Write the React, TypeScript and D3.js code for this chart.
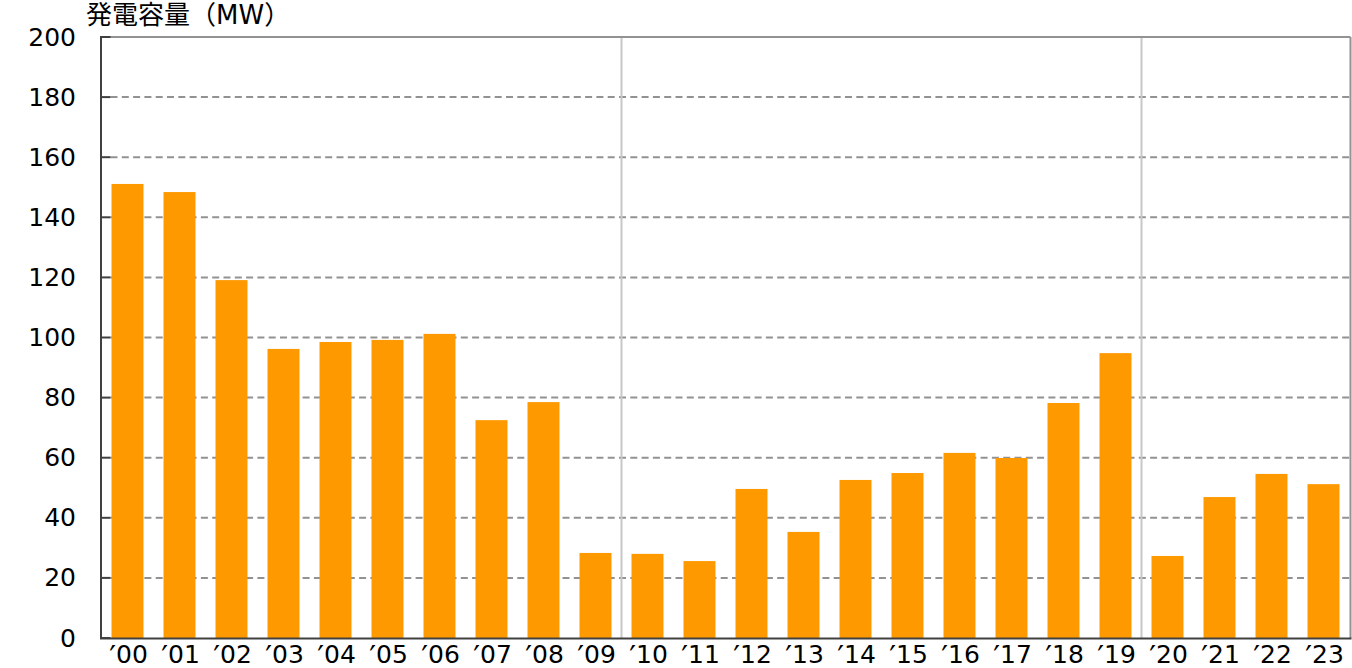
import React from "react";
import * as d3 from "d3";

const categories = ["′00","′01","′02","′03","′04","′05","′06","′07","′08","′09","′10","′11","′12","′13","′14","′15","′16","′17","′18","′19","′20","′21","′22","′23"];
const values = [151.1,148.4,119.1,96.2,98.5,99.2,101.2,72.5,78.5,28.3,28.0,25.6,49.6,35.3,52.6,54.9,61.6,59.9,78.2,94.8,27.3,46.9,54.6,51.2];
const yTicks = [0,20,40,60,80,100,120,140,160,180,200];
const separatorsAfter = ["′09","′19"];
const title = "発電容量（MW）";

const W = 1352, H = 668;
const left = 101.5, right = 1349.5, top = 37, bottom = 638;

export default function App() {
  const x = d3.scaleBand<string>().domain(categories).range([left, right]).paddingInner(0.385).paddingOuter(0.1925);
  const y = d3.scaleLinear().domain([0, 200]).range([bottom, top]);
  const step = x.step();
  const font = "'DejaVu Sans', Verdana, sans-serif";
  return (
    <svg width={W} height={H} style={{ position: "absolute", left: 0, top: 0, background: "#fff" }}>
      {/* gridlines */}
      {yTicks.filter(t => t > 0 && t < 200).map(t => (
        <line key={"g" + t} x1={left + 9} x2={right} y1={y(t)} y2={y(t)} stroke="#929292" strokeWidth={2} strokeDasharray="7,4.3" />
      ))}
      {/* separators */}
      {separatorsAfter.map(c => {
        const sx = (x(c) as number) - step * 0.1925 + step;
        return <line key={"s" + c} x1={sx} x2={sx} y1={top} y2={bottom} stroke="#c8c8c8" strokeWidth={2} />;
      })}
      {/* top and right border */}
      <line x1={left} x2={right + 1} y1={top} y2={top} stroke="#929292" strokeWidth={2} />
      <line x1={right + 1} x2={right + 1} y1={top} y2={bottom} stroke="#929292" strokeWidth={2} />
      {/* bars */}
      {categories.map((c, i) => (
        <rect key={c} x={x(c)} width={x.bandwidth()} y={y(values[i])} height={bottom - y(values[i])} fill="#FF9900" />
      ))}
      {/* axes */}
      <line x1={left - 0.5} x2={left - 0.5} y1={top - 1} y2={bottom + 1} stroke="#404040" strokeWidth={2} />
      <line x1={left - 1.5} x2={right + 2} y1={bottom + 0.5} y2={bottom + 0.5} stroke="#404040" strokeWidth={2} />
      {yTicks.map(t => (
        <g key={"t" + t}>
          <line x1={left - 0.5} x2={left + 9} y1={y(t)} y2={y(t)} stroke="#404040" strokeWidth={2} />
          <text x={76} y={y(t)} textAnchor="end" dominantBaseline="central" fontFamily={font} fontSize={25} fill="#000">{t}</text>
        </g>
      ))}
      {categories.map(c => (
        <text key={"l" + c} x={(x(c) as number) + x.bandwidth() / 2 + 1} y={663} textAnchor="middle" fontFamily={font} fontSize={25} fill="#000">
          <tspan fontSize={30} dy={4}>{c.slice(0, 1)}</tspan>
          <tspan dy={-4}>{c.slice(1)}</tspan>
        </text>
      ))}
      <text x={86} y={24} fontFamily={"'DejaVu Sans', 'Noto Sans CJK JP', sans-serif"} fontSize={26} fill="#000">{title}</text>
    </svg>
  );
}
